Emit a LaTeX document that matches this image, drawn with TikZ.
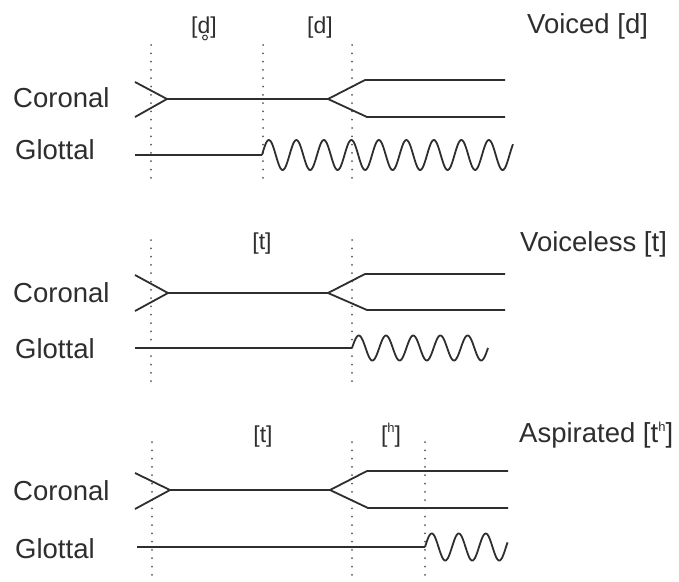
\documentclass[tikz,border=0pt]{standalone}
\usepackage{fontspec}
\setmainfont{Liberation Sans}
\newcommand\suph{\raisebox{0.40em}{\fontsize{13}{13}\selectfont h}}
\begin{document}
\begin{tikzpicture}[x=1pt,y=-1pt,
  wire/.style={line width=1.8pt, draw=black!82, line join=round},
  wave/.style={line width=1.8pt, draw=black!82},
  dotline/.style={line width=2pt, draw=black!65, line cap=round, dash pattern=on 0pt off 8.3pt},
  lbl/.style={font=\fontsize{27.5}{30}\selectfont, text=black!82, inner sep=0pt, anchor=base west},
  ipa/.style={font=\fontsize{23}{26}\selectfont, text=black!82, inner sep=0pt, anchor=base}]
\useasboundingbox (0,0) rectangle (679,581);
\fill[white] (0,0) rectangle (679,581);

% ---------------- Panel 1: Voiced [d]
\node[lbl] (c1) at (13,107) {Coronal};
\node[lbl] (g1) at (15,159) {Glottal};
\node[ipa] (s1a) at (204,33) {[d]};
\draw[black!82, line width=1pt] (s1a.base) ++(1,4.5) circle (2.4);
\node[ipa] (s1b) at (320,33) {[d]};
\node[lbl] (t1) at (527,33) {Voiced [d]};

\coordinate (d1a0) at (151,45);  \coordinate (d1a1) at (151,185);
\coordinate (d1b0) at (263,45);  \coordinate (d1b1) at (263,185);
\coordinate (d1c0) at (352,45);  \coordinate (d1c1) at (352,185);
\draw[dotline] (d1a0) -- (d1a1);
\draw[dotline] (d1b0) -- (d1b1);
\draw[dotline] (d1c0) -- (d1c1);

\coordinate (v1u) at (135,82);   \coordinate (v1l) at (135,117);
\coordinate (v1m) at (167,99);   \coordinate (v1s) at (328,99);
\coordinate (v1uu) at (365,80);  \coordinate (v1ue) at (505,80);
\coordinate (v1ll) at (367,117); \coordinate (v1le) at (505,117);
\draw[wire] (v1u) -- (v1m) -- (v1l);
\draw[wire] (v1m) -- (v1s);
\draw[wire] (v1ue) -- (v1uu) -- (v1s) -- (v1ll) -- (v1le);

\coordinate (gl1a) at (135,155); \coordinate (gl1b) at (262,155);
\draw[wire] (gl1a) -- (gl1b);
\draw[wave] plot[domain=0:251, samples=300, smooth] ({262+\x},{155-15*sin(13.0909*\x)});

% ---------------- Panel 2: Voiceless [t]
\node[lbl] (c2) at (13,302) {Coronal};
\node[lbl] (g2) at (15,358) {Glottal};
\node[ipa] (s2a) at (262,249) {[t]};
\node[lbl] (t2) at (520,251) {Voiceless [t]};

\coordinate (d2a0) at (151,240); \coordinate (d2a1) at (151,382);
\coordinate (d2b0) at (352,240); \coordinate (d2b1) at (352,382);
\draw[dotline] (d2a0) -- (d2a1);
\draw[dotline] (d2b0) -- (d2b1);

\coordinate (v2u) at (135,275);  \coordinate (v2l) at (135,311);
\coordinate (v2m) at (168,293);  \coordinate (v2s) at (328,293);
\coordinate (v2uu) at (365,274); \coordinate (v2ue) at (505,274);
\coordinate (v2ll) at (367,310); \coordinate (v2le) at (505,310);
\draw[wire] (v2u) -- (v2m) -- (v2l);
\draw[wire] (v2m) -- (v2s);
\draw[wire] (v2ue) -- (v2uu) -- (v2s) -- (v2ll) -- (v2le);

\coordinate (gl2a) at (135,348); \coordinate (gl2b) at (352,348);
\draw[wire] (gl2a) -- (gl2b);
\draw[wave] plot[domain=0:136, samples=200, smooth] ({352+\x},{348-12.5*sin(13.2353*\x)});

% ---------------- Panel 3: Aspirated [t^h]
\node[lbl] (c3) at (13,500) {Coronal};
\node[lbl] (g3) at (15,558) {Glottal};
\node[ipa] (s3a) at (263,442) {[t]};
\node[ipa] (s3b) at (391,442) {[\suph]};
\node[lbl] (t3) at (519,442) {Aspirated [t\suph]};

\coordinate (d3a0) at (152,442); \coordinate (d3a1) at (152,578);
\coordinate (d3b0) at (352,442); \coordinate (d3b1) at (352,578);
\coordinate (d3c0) at (425,442); \coordinate (d3c1) at (425,578);
\draw[dotline] (d3a0) -- (d3a1);
\draw[dotline] (d3b0) -- (d3b1);
\draw[dotline] (d3c0) -- (d3c1);

\coordinate (v3u) at (135,473);  \coordinate (v3l) at (135,509);
\coordinate (v3m) at (170,490);  \coordinate (v3s) at (330,490);
\coordinate (v3uu) at (367,471); \coordinate (v3ue) at (508,471);
\coordinate (v3ll) at (368,508); \coordinate (v3le) at (508,508);
\draw[wire] (v3u) -- (v3m) -- (v3l);
\draw[wire] (v3m) -- (v3s);
\draw[wire] (v3ue) -- (v3uu) -- (v3s) -- (v3ll) -- (v3le);

\coordinate (gl3a) at (137,547); \coordinate (gl3b) at (425,547);
\draw[wire] (gl3a) -- (gl3b);
\draw[wave] plot[domain=0:82.5, samples=150, smooth] ({425+\x},{547-13.5*sin(13.3333*\x)});
\end{tikzpicture}
\end{document}
